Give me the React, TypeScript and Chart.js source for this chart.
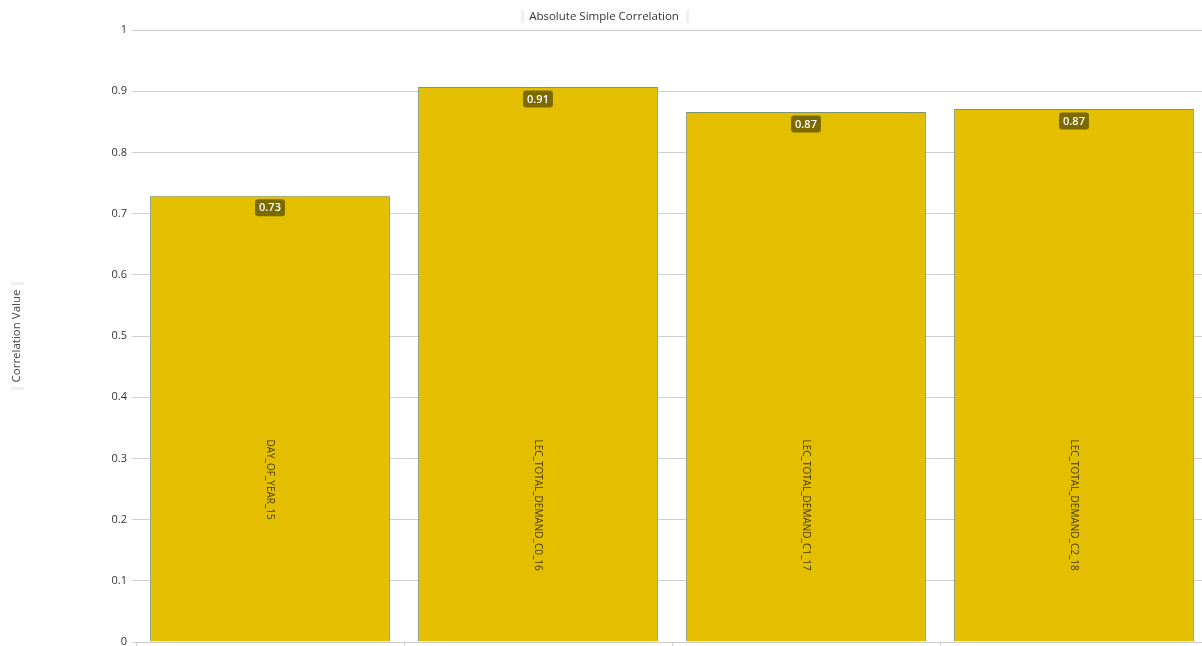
import React, { useEffect, useRef } from "react";
import { Chart, registerables } from "chart.js";

Chart.register(...registerables);

const chartTitle = "Absolute Simple Correlation";
const yAxisTitle = "Correlation Value";
const categories = ["DAY_OF_YEAR_15", "LEC_TOTAL_DEMAND_C0_16", "LEC_TOTAL_DEMAND_C1_17", "LEC_TOTAL_DEMAND_C2_18"];
const correlationValues = [0.729, 0.907, 0.866, 0.871];
const yTickLabels = ["0", "0.1", "0.2", "0.3", "0.4", "0.5", "0.6", "0.7", "0.8", "0.9", "1"];

const FONT = "'Open Sans', 'Noto Sans', sans-serif";
const CANVAS_W = 1212;
const CANVAS_H = 680;

const barLabelPlugin = {
  id: "barLabels",
  afterDatasetsDraw(chart: any) {
    const ctx = chart.ctx;
    const meta = chart.getDatasetMeta(0);
    const yScale = chart.scales.y;
    meta.data.forEach((bar: any, i: number) => {
      const v = correlationValues[i];
      const txt = v.toFixed(2);
      ctx.save();
      ctx.font = `600 11px ${FONT}`;
      const tw = ctx.measureText(txt).width;
      const bw = tw + 8;
      const bh = 17;
      const cx = bar.x;
      const cy = bar.y + 12;
      ctx.fillStyle = "#7b6a00";
      ctx.beginPath();
      (ctx as any).roundRect(cx - bw / 2, cy - bh / 2, bw, bh, 3);
      ctx.fill();
      ctx.fillStyle = "#ffffff";
      ctx.textAlign = "center";
      ctx.textBaseline = "middle";
      ctx.fillText(txt, cx, cy + 0.5);
      ctx.restore();

      ctx.save();
      ctx.font = `10px ${FONT}`;
      ctx.fillStyle = "rgba(40,35,0,0.85)";
      const startY = yScale.getPixelForValue(0.331);
      ctx.translate(cx, startY);
      ctx.rotate(Math.PI / 2);
      ctx.textAlign = "left";
      ctx.textBaseline = "middle";
      ctx.fillText(categories[i], 0, 0);
      ctx.restore();
    });
  },
  afterDraw(chart: any) {
    const ctx = chart.ctx;
    ctx.save();
    ctx.fillStyle = "#efefef";
    const mid = chart.width / 2;
    ctx.fillRect(mid - 85, 10, 3, 13);
    ctx.fillRect(mid + 80, 10, 3, 13);
    const cy = (chart.chartArea.top + chart.chartArea.bottom) / 2;
    ctx.fillRect(11, cy - 54, 13, 3);
    ctx.fillRect(11, cy + 51, 13, 3);
    ctx.restore();
  },
};

export default function App() {
  const canvasRef = useRef<HTMLCanvasElement | null>(null);

  useEffect(() => {
    document.body.style.margin = "0";
    const canvas = canvasRef.current;
    if (!canvas) return;
    const chart = new Chart(canvas, {
      type: "bar",
      data: {
        labels: categories,
        datasets: [
          {
            data: correlationValues,
            backgroundColor: "#e3bf00",
            borderColor: "#7d9670",
            borderWidth: 1,
            barPercentage: 0.895,
            categoryPercentage: 1,
          },
        ],
      },
      options: {
        responsive: false,
        animation: false,
        devicePixelRatio: 1,
        layout: { padding: { left: 0, right: 4, top: 0, bottom: 0 } },
        plugins: {
          legend: { display: false },
          tooltip: { enabled: false },
          title: {
            display: true,
            text: chartTitle,
            color: "#333333",
            font: { family: FONT, size: 11.5, weight: "normal" },
            padding: { top: 9.8, bottom: 6.4 },
          },
        },
        scales: {
          x: {
            offset: true,
            grid: {
              display: true,
              offset: true,
              drawOnChartArea: false,
              drawTicks: true,
              tickLength: 4,
              color: "#cccccc",
            },
            border: { display: true, color: "#cccccc" },
            ticks: { display: false },
            afterFit: (scale: any) => {
              scale.height = CANVAS_H - 642;
            },
          },
          y: {
            min: 0,
            max: 1,
            ticks: {
              stepSize: 0.1,
              color: "#333333",
              font: { family: FONT, size: 11 },
              padding: 5,
              callback: (_v: any, idx: number) => yTickLabels[idx],
            },
            grid: { color: "#d0d0d0", tickLength: 4 },
            border: { display: false },
            title: {
              display: true,
              text: yAxisTitle,
              color: "#444444",
              font: { family: FONT, size: 11.5 },
              padding: { top: 10, bottom: 0 },
            },
            afterFit: (scale: any) => {
              scale.width = 136;
            },
          },
        },
      },
      plugins: [barLabelPlugin],
    });
    return () => chart.destroy();
  }, []);

  return (
    <div style={{ position: "absolute", left: 0, top: 0, width: 1202, height: 646, overflow: "hidden", background: "#fff" }}>
      <canvas ref={canvasRef} width={CANVAS_W} height={CANVAS_H} style={{ display: "block" }} />
    </div>
  );
}
